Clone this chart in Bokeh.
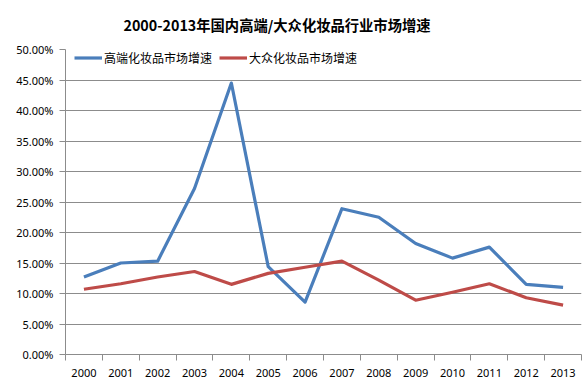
from bokeh.plotting import figure
from bokeh.models import Range1d, FixedTicker, NumeralTickFormatter, Legend, LegendItem
from bokeh.embed import file_html
from bokeh.resources import INLINE

years = list(range(2000, 2014))
high_end = [0.127, 0.150, 0.153, 0.272, 0.445, 0.144, 0.086, 0.239, 0.225, 0.182,
            0.158, 0.176, 0.115, 0.110]
mass = [0.107, 0.116, 0.127, 0.136, 0.115, 0.133, 0.143, 0.153, 0.122, 0.089,
        0.102, 0.116, 0.093, 0.081]
y_ticks = [i * 0.05 for i in range(11)]
title_text = "2000-2013年国内高端/大众化妆品行业市场增速"
name_high = "高端化妆品市场增速"
name_mass = "大众化妆品市场增速"

BLUE = "#4A7EBB"
RED = "#BE4B48"
GRID = "#8c8c8c"
CJK = "Noto Sans CJK SC"

p = figure(width=582, height=389, output_backend="svg", toolbar_location=None,
           x_range=Range1d(1999.5, 2013.5), y_range=Range1d(0, 0.5),
           min_border_left=65, min_border_right=1, min_border_bottom=35,
           min_border_top=46)
p.outline_line_color = None
p.background_fill_color = "white"
p.border_fill_color = "white"

p.title.text = title_text
p.title.text_font = CJK
p.title.text_font_size = "14.3px"
p.title.text_font_style = "bold"
p.title.text_color = "#000000"
p.title.align = "left"
p.title.vertical_align = "top"
p.title.offset = 58
p.title.standoff = 26

r1 = p.line(years, high_end, line_color=BLUE, line_width=3.2, line_join="round")
r2 = p.line(years, mass, line_color=RED, line_width=3.2, line_join="round")

# x axis
p.xaxis.ticker = FixedTicker(ticks=years, minor_ticks=[y - 0.5 for y in years] + [2013.5])
p.xaxis.major_tick_line_color = None
p.xaxis.major_tick_out = 6
p.xaxis.major_tick_in = 0
p.xaxis.minor_tick_line_color = GRID
p.xaxis.minor_tick_out = 6
p.xaxis.minor_tick_in = 0
p.xaxis.major_label_standoff = 8
p.xaxis.axis_line_color = GRID
p.xaxis.major_label_text_font = "Noto Sans"
p.xaxis.major_label_text_font_size = "11px"
p.xaxis.major_label_text_color = "#000000"

# y axis
p.yaxis.ticker = FixedTicker(ticks=y_ticks)
p.yaxis.formatter = NumeralTickFormatter(format="0.00%")
p.yaxis.major_tick_out = 6
p.yaxis.major_tick_in = 0
p.yaxis.minor_tick_line_color = None
p.yaxis.major_tick_line_color = GRID
p.yaxis.axis_line_color = GRID
p.yaxis.major_label_standoff = 6
p.yaxis.major_label_text_font = "Noto Sans"
p.yaxis.major_label_text_font_size = "11px"
p.yaxis.major_label_text_color = "#000000"

p.xgrid.grid_line_color = None
p.ygrid.ticker = FixedTicker(ticks=y_ticks)
p.ygrid.grid_line_color = GRID
p.ygrid.grid_line_width = 1

legend = Legend(items=[LegendItem(label=name_high, renderers=[r1]),
                       LegendItem(label=name_mass, renderers=[r2])],
                orientation="horizontal", location=(9, 288),
                border_line_color=None, background_fill_alpha=0,
                padding=0, margin=0, spacing=7, label_standoff=2,
                glyph_width=28, glyph_height=17, label_height=17,
                label_text_font=CJK, label_text_font_size="12px",
                label_text_color="#000000")
p.add_layout(legend, "center")

open("out.html", "w").write(file_html(p, INLINE))
